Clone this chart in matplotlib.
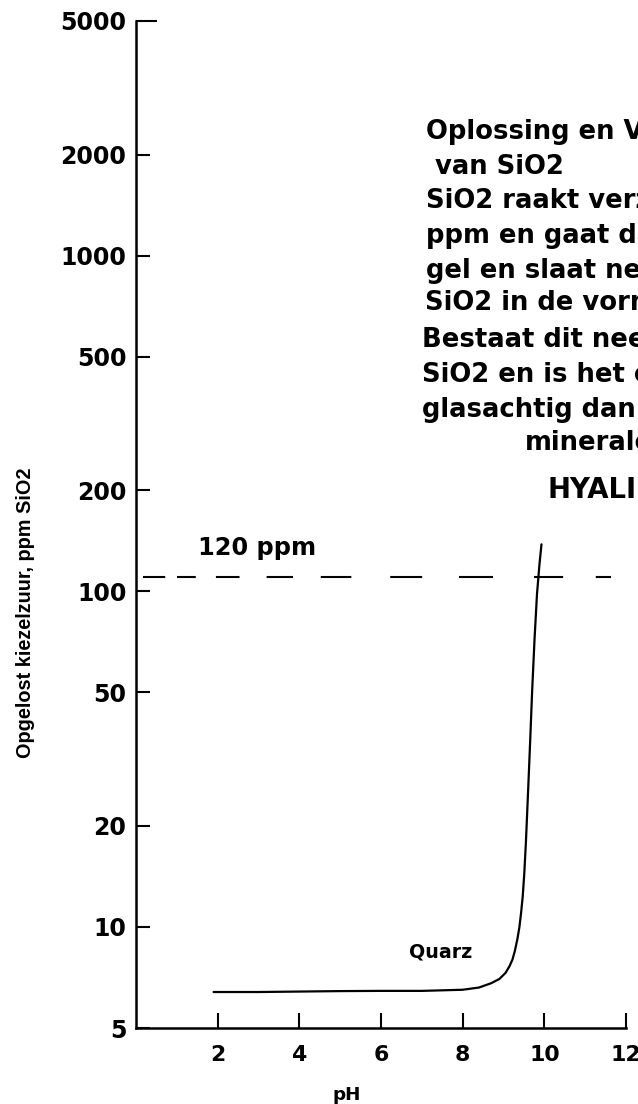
import matplotlib
matplotlib.use("Agg")
import matplotlib.pyplot as plt
from matplotlib.ticker import NullLocator

# ---- data ----
quarz_ph = [1.9, 3.0, 4.0, 5.0, 6.0, 7.0, 8.0, 8.4, 8.7, 8.9, 9.05, 9.15, 9.22, 9.28, 9.34, 9.39, 9.43, 9.47, 9.51, 9.55, 9.6, 9.65, 9.7, 9.76, 9.82, 9.88, 9.93]
quarz_ppm = [6.4, 6.4, 6.42, 6.44, 6.45, 6.45, 6.5, 6.6, 6.8, 7.0, 7.3, 7.65, 8.0, 8.5, 9.2, 10.0, 11.0, 12.3, 14.5, 18.0, 25.0, 35.0, 50.0, 72.0, 98.0, 120.0, 138.0]
limit_ppm = 110
limit_ph = [0.17, 11.67]
x_ticks = [2, 4, 6, 8, 10, 12]
y_ticks = [5, 10, 20, 50, 100, 200, 500, 1000, 2000, 5000]
y_labels = ["5", "10", "20", "50", "100", "200", "500", "1000", "2000", "5000"]
text_lines = [
    "Oplossing en Verharding",
    " van SiO2",
    "SiO2 raakt verzadigd bij 120",
    "ppm en gaat dan over in een",
    "gel en slaat neer als amorf",
    "SiO2 in de vorm van opaal.",
    "Bestaat dit neerslag uit amorf",
    "SiO2 en is het opaal helder en",
    "glasachtig dan heet het",
    "mineraleen",
    "HYALIET",
]

W, H = 638, 1104
plt.rcParams['lines.scale_dashes'] = False
fig = plt.figure(figsize=(W / 100, H / 100), dpi=100)
ax = fig.add_axes([136 / W, 76 / H, 490 / W, 1007 / H])

ax.set_yscale('log')
ax.set_xlim(0, 12)
ax.set_ylim(5, 5000)

ax.plot(quarz_ph, quarz_ppm, color='black', lw=1.6, solid_capstyle='round',
        solid_joinstyle='round')
dash = (0, (16, 8.5, 13.5, 14.5, 17, 19.5, 19, 20, 22, 28, 23, 26.5, 24.5, 29.5, 21, 23.5, 11, 10))
ax.plot(limit_ph, [limit_ppm, limit_ppm], color='black', lw=1.5, linestyle=dash)

for s in ['top', 'right']:
    ax.spines[s].set_visible(False)
for s in ['left', 'bottom']:
    ax.spines[s].set_linewidth(1.8)

ax.set_xticks(x_ticks)
ax.set_xticklabels([str(v) for v in x_ticks])
ax.set_yticks(y_ticks)
ax.set_yticklabels(y_labels)
ax.yaxis.set_minor_locator(NullLocator())
ax.xaxis.set_minor_locator(NullLocator())

ax.tick_params(axis='x', direction='in', length=11, width=1.5, pad=12,
               labelsize=15.8)
ax.tick_params(axis='y', direction='in', length=10, width=1.5, pad=7,
               labelsize=17)
for lab in ax.get_xticklabels() + ax.get_yticklabels():
    lab.set_fontweight('bold')
    lab.set_family('DejaVu Sans')
# longer top tick
ax.yaxis.get_major_ticks()[-1].tick1line.set_markersize(15)


def ftext(px, py, s, **kw):
    fig.text(px / W, 1 - py / H, s, **kw)


ftext(26, 613, "Opgelost kiezelzuur, ppm SiO2", rotation=90, ha='center', va='center',
      fontsize=14.3, fontweight='bold', family='Liberation Sans')
ftext(347, 1100, "pH", ha='center', va='baseline', fontsize=13.2, fontweight='bold')
ftext(409, 957, "Quarz", ha='left', va='baseline', fontsize=13.7, fontweight='bold')
ftext(198, 555, "120 ppm", ha='left', va='baseline', fontsize=17.3, fontweight='bold')

lefts = [426, 426, 426, 426, 426, 425, 422, 422, 422, 525, 548]
bases = [139, 174, 208, 243, 278, 310, 347, 382, 417, 450, 498]
sizes = [18.6] * 10 + [19.8]
for s, lx, by, fs in zip(text_lines, lefts, bases, sizes):
    ftext(lx, by, s, ha='left', va='baseline', fontsize=fs, fontweight='bold')

fig.savefig("out.png", dpi=100)
